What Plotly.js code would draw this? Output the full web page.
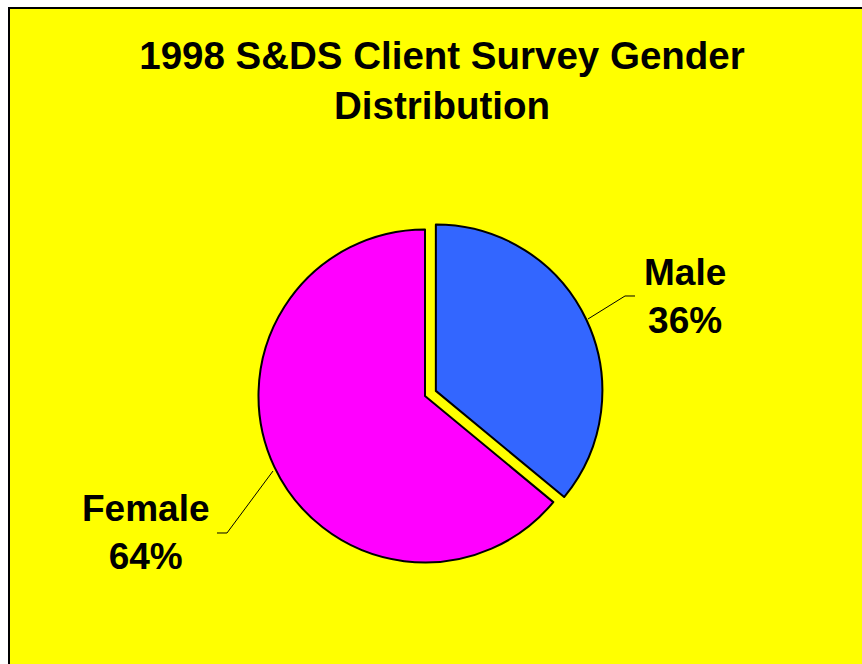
<!DOCTYPE html>
<html>
<head>
<meta charset="utf-8">
<script src="https://cdn.plot.ly/plotly-3.0.1.min.js"></script>
<style>html,body{margin:0;padding:0;background:#fff;}#chart{width:862px;height:664px;}</style>
</head>
<body>
<div id="chart"></div>
<script>
const categories = ["Male", "Female"];
const percentValues = [36, 64];
const sliceColors = ["#3366FF", "#FF00FF"];
const pullAmounts = [0.072, 0];
const chartTitle = "1998 S&DS Client Survey Gender<br>Distribution";

const W = 862, H = 664;
const px = x => x / W;
const py = y => 1 - y / H;
function pathOf(points) {
  return points.map((p, i) => (i ? "L" : "M") + px(p[0]).toFixed(5) + "," + py(p[1]).toFixed(5)).join(" ");
}

const FONT = "Liberation Sans, Arial, Helvetica, sans-serif";

const trace = {
  type: "pie",
  labels: categories,
  values: percentValues,
  sort: false,
  direction: "clockwise",
  rotation: 0,
  pull: pullAmounts,
  marker: { colors: sliceColors, line: { color: "#000000", width: 2 } },
  textinfo: "none",
  hoverinfo: "label+percent",
  showlegend: false,
  domain: { x: [px(246.5), px(603.5)], y: [py(574.5), py(217.5)] }
};

const annotations = [
  { text: "<b>" + categories[0] + "<br>" + percentValues[0] + "%</b>", x: px(685), y: py(296), xref: "paper", yref: "paper", xanchor: "center", yanchor: "middle", showarrow: false, font: { family: FONT, size: 37, color: "#000" } },
  { text: "<b>" + categories[1] + "<br>" + percentValues[1] + "%</b>", x: px(146), y: py(532), xref: "paper", yref: "paper", xanchor: "center", yanchor: "middle", showarrow: false, font: { family: FONT, size: 37, color: "#000" } }
];

const shapes = [
  { type: "rect", xref: "paper", yref: "paper", x0: px(9), x1: px(880), y0: py(8), y1: py(690), fillcolor: "#FFFF00", line: { color: "#000000", width: 2 }, layer: "below" },
  { type: "path", xref: "paper", yref: "paper", path: pathOf([[588, 319], [625, 296], [635, 296]]), line: { color: "#000", width: 1 } },
  { type: "path", xref: "paper", yref: "paper", path: pathOf([[273, 471], [227, 533], [217, 533]]), line: { color: "#000", width: 1 } }
];

const layout = {
  width: W, height: H,
  margin: { l: 0, r: 0, t: 0, b: 0 },
  paper_bgcolor: "#FFFFFF",
  plot_bgcolor: "rgba(0,0,0,0)",
  title: { text: "<b>" + chartTitle + "</b>", x: 442 / W, xanchor: "center", y: 1 - 69 / H, yanchor: "middle", yref: "container", font: { family: FONT, size: 38.5, color: "#000" } },
  annotations: annotations,
  shapes: shapes,
  showlegend: false
};

Plotly.newPlot("chart", [trace], layout, { displayModeBar: false, staticPlot: true });
</script>
</body>
</html>
